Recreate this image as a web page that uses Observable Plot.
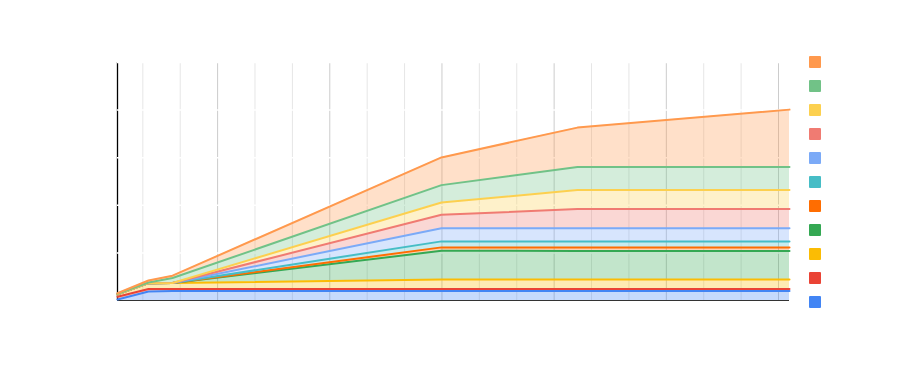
<!DOCTYPE html>
<html><head><meta charset="utf-8">
<script src="https://cdn.jsdelivr.net/npm/d3@7"></script>
<script src="https://cdn.jsdelivr.net/npm/@observablehq/plot@0.6"></script>
<style>
body{margin:0;background:#fff;font-family:Roboto,Arial,sans-serif;}
#wrap{position:relative;width:920px;height:371px;}
#legend{position:absolute;left:809px;top:56px;}
.sw{width:12px;height:12px;margin-bottom:12px;border-radius:1px;}
</style></head><body><div id="wrap"></div>
<script>
// x positions (days) of data points
const days = [0, 5.8, 10.3, 60.65, 86.1, 125.8];
// series names (bottom of stack first) and colours
const seriesNames = ["Series 1","Series 2","Series 3","Series 4","Series 5","Series 6","Series 7","Series 8","Series 9","Series 10","Series 11"];
const seriesColors = ["#4285F4","#EA4335","#FBBC04","#34A853","#FF6D01","#46BDC6","#7BAAF7","#F07B72","#FCD04F","#71C287","#FF994D"];
// values per series at each x
const s1  = [1.1, 9.5, 10, 10, 10, 10];
const s2  = [2.8, 2.6, 2.1, 2.1, 2.1, 2.1];
const s3  = [2.6, 6.1, 6.2, 10, 10, 10];
const s4  = [0, 0, 0, 30.1, 30, 30];
const s5  = [0, 0, 0, 3.6, 3.7, 3.7];
const s6  = [0, 0, 0, 6.3, 6.3, 6.3];
const s7  = [0, 0, 0, 13.9, 13.9, 13.9];
const s8  = [0, 0, 0, 14, 20, 20];
const s9  = [0, 0, 0, 13, 20, 20.2];
const s10 = [0.6, 0.7, 5.3, 18.2, 24.2, 24];
const s11 = [0.5, 2.1, 2.5, 29.1, 41.4, 60.3];
const seriesValues = [s1,s2,s3,s4,s5,s6,s7,s8,s9,s10,s11];
// grid ticks
const minorTicks = [4.74, 11.74, 25.74, 32.74, 46.74, 53.74, 67.74, 74.74, 88.74, 95.74, 109.74, 116.74];
const majorTicks = [18.74, 39.74, 60.74, 81.74, 102.74, 123.74];
const yTicks = [50, 100, 150, 200, 250];

const data = [];
seriesNames.forEach((name, i) => {
  days.forEach((d, j) => data.push({x: d, series: name, value: seriesValues[i][j]}));
});

const chart = Plot.plot({
  width: 920,
  height: 371,
  marginLeft: 117,
  marginRight: 131,
  marginTop: 62,
  marginBottom: 71,
  x: {domain: [0, 125.8], axis: null},
  y: {domain: [0, 250], axis: null},
  color: {domain: seriesNames, range: seriesColors},
  marks: [
    Plot.ruleX(minorTicks, {y1: 0, y2: 250, stroke: "#e6e6e6", strokeWidth: 1}),
    Plot.ruleX(majorTicks, {y1: 0, y2: 250, stroke: "#cccccc", strokeWidth: 1}),
    Plot.ruleX([0], {y1: 0, y2: 250, stroke: "#000", strokeWidth: 1.3}),
    Plot.ruleY([0], {x1: 0, x2: 125.8, stroke: "#333", strokeWidth: 1}),
    Plot.ruleY(yTicks, {x1: 0, x2: 125.8, stroke: "#fff", strokeWidth: 1.5}),
    Plot.areaY(data, {x: "x", y: "value", z: "series", fill: "series", fillOpacity: 0.3, curve: "linear"}),
    Plot.lineY(data, Plot.stackY2({x: "x", y: "value", z: "series", stroke: "series", strokeWidth: 2, curve: "linear"}))
  ]
});
const wrap = document.getElementById("wrap");
wrap.appendChild(chart);

const legend = document.createElement("div");
legend.id = "legend";
seriesNames.slice().reverse().forEach((name, i) => {
  const sw = document.createElement("div");
  sw.className = "sw";
  sw.title = name;
  sw.style.background = seriesColors[seriesNames.length - 1 - i];
  legend.appendChild(sw);
});
wrap.appendChild(legend);
</script></body></html>
